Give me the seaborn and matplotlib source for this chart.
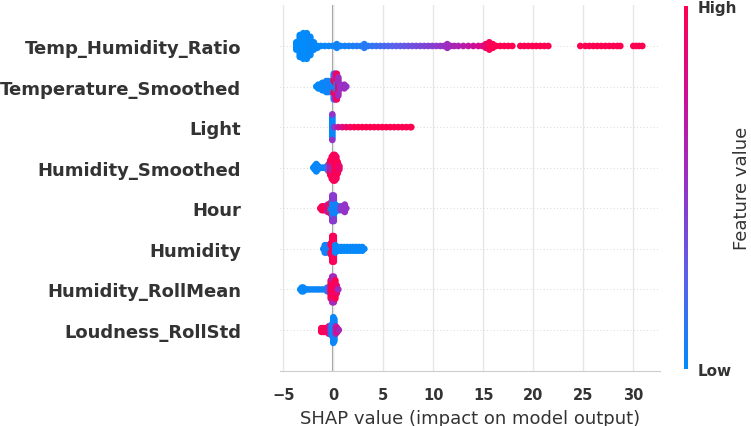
import numpy as np
import pandas as pd
import seaborn as sns
import matplotlib.pyplot as plt
from matplotlib.colors import LinearSegmentedColormap, Normalize
from matplotlib.cm import ScalarMappable

# Features, top to bottom
features = [
    "Temp_Humidity_Ratio",
    "Temperature_Smoothed",
    "Light",
    "Humidity_Smoothed",
    "Hour",
    "Humidity",
    "Humidity_RollMean",
    "Loudness_RollStd",
]

# For every feature: SHAP value, how many samples sit there, feature value (0 low .. 1 high)
thr_shap = [-3.7, -3.35, -3.0, -2.65, -2.3, -1.95, -1.6,
            -1.25, -0.85, -0.45, -0.05, 0.35, 0.75, 1.15, 1.55, 1.95, 2.35, 2.75,
            3.1, 3.5, 3.9, 4.3, 4.7, 5.1, 5.5, 5.9, 6.3, 6.7, 7.1, 7.5, 7.9, 8.3,
            8.7, 9.1, 9.5, 9.9, 10.3, 10.7, 11.05, 11.4, 11.75, 12.1, 12.5, 13.0,
            13.5, 14.0, 14.5, 14.9, 15.25, 15.6, 15.95, 16.3, 16.7, 17.1, 17.5, 17.9,
            18.7, 19.1, 19.5, 19.9, 20.3, 20.7, 21.1, 21.5,
            24.7, 25.2, 25.6, 26.0, 26.4, 26.8, 27.2, 27.6, 28.0, 28.4, 28.7,
            30.0, 30.3, 30.6, 30.9]
thr_count = [5, 13, 15, 15, 11, 5, 2,
             1, 1, 1, 1, 3, 1, 1, 1, 1, 1, 1,
             3, 1, 1, 1, 1, 1, 1, 1, 1, 1, 1, 1, 1, 1,
             1, 1, 1, 1, 1, 1, 1, 3, 1, 1, 1, 1,
             1, 1, 1, 1, 3, 5, 3, 1, 1, 1, 1, 1,
             1, 1, 1, 1, 1, 1, 1, 1,
             1, 1, 1, 1, 1, 1, 1, 1, 1, 1, 1,
             1, 1, 1, 1]
thr_value = [0.0, 0.0, 0.01, 0.01, 0.02, 0.02, 0.02,
             0.02, 0.03, 0.03, 0.04, 0.05, 0.05, 0.06, 0.07, 0.08, 0.09, 0.1,
             0.1, 0.12, 0.14, 0.16, 0.18, 0.2, 0.22, 0.24, 0.26, 0.28, 0.3, 0.32, 0.34, 0.36,
             0.38, 0.4, 0.42, 0.44, 0.46, 0.5, 0.52, 0.55, 0.57, 0.6, 0.62, 0.66,
             0.7, 0.74, 0.78, 0.82, 0.88, 0.97, 1.0, 1.0, 1.0, 1.0, 1.0, 1.0,
             1.0, 1.0, 1.0, 1.0, 1.0, 1.0, 1.0, 1.0,
             1.0, 1.0, 1.0, 1.0, 1.0, 1.0, 1.0, 1.0, 1.0, 1.0, 1.0,
             1.0, 1.0, 1.0, 1.0]

temp_shap = [-1.7, -1.5, -1.3, -1.1, -0.9, -0.7, -0.5, -0.3, -0.1,
             0.05, 0.05, 0.05, 0.2, 0.2, 0.2, 0.35, 0.35, 0.5, 0.5,
             0.7, 0.9, 1.1, 1.3]
temp_count = [1, 3, 3, 5, 5, 7, 7, 5, 7,
              5, 6, 4, 4, 6, 5, 7, 8, 6, 5,
              3, 1, 3, 1]
temp_value = [0.0, 0.01, 0.02, 0.02, 0.03, 0.03, 0.04, 0.05, 0.05,
              0.05, 0.95, 0.1, 0.1, 1.0, 0.6, 0.05, 0.95, 0.9, 0.55,
              0.5, 0.5, 0.55, 0.5]

light_shap = [-0.1, -0.1, 0.1, 0.5, 0.9, 1.3, 1.7, 2.1, 2.5, 2.9, 3.3, 3.7,
              4.1, 4.5, 4.9, 5.3, 5.7, 6.1, 6.5, 6.9, 7.3, 7.7, 7.8]
light_count = [13, 2, 1, 1, 1, 1, 1, 1, 1, 1, 1, 1,
               1, 1, 1, 1, 1, 1, 1, 1, 1, 1, 1]
light_value = [0.02, 0.5, 0.5, 0.7, 0.85, 0.9, 0.95, 1.0, 1.0, 1.0, 1.0, 1.0,
               1.0, 1.0, 1.0, 1.0, 1.0, 1.0, 1.0, 1.0, 1.0, 1.0, 1.0]

humsm_shap = [-2.0, -1.85, -1.7, -1.55, -1.4, -1.2, -1.0, -0.8, -0.6, -0.45,
              -0.3, -0.3, -0.15, -0.15, 0.0, 0.0, 0.15, 0.3, 0.45, 0.6]
humsm_count = [1, 3, 5, 3, 1, 1, 1, 1, 3, 5,
               3, 6, 5, 8, 6, 9, 15, 13, 7, 3]
humsm_value = [0.0, 0.01, 0.02, 0.02, 0.03, 0.03, 0.04, 0.05, 0.1, 0.3,
               0.6, 0.95, 0.55, 1.0, 0.6, 0.95, 1.0, 0.95, 1.0, 0.9]

hour_shap = [-1.3, -1.15, -1.0, -0.85, -0.7, -0.55, -0.55, -0.4, -0.25, -0.25,
             -0.1, -0.1, 0.05, 0.05, 0.2, 0.35, 0.55, 0.75, 0.95, 1.15, 1.3]
hour_count = [1, 3, 3, 3, 3, 3, 2, 5, 4, 3,
              9, 6, 10, 5, 5, 3, 3, 3, 3, 5, 1]
hour_value = [1.0, 0.95, 1.0, 0.95, 1.0, 0.95, 0.6, 1.0, 0.05, 0.95,
              0.05, 0.5, 0.05, 0.45, 0.05, 0.05, 0.05, 0.45, 0.45, 0.5, 0.5]

hum_shap = [-1.0, -0.85, -0.7, -0.55, -0.4, -0.25, -0.25, -0.1, 0.05, 0.2,
            0.35, 0.5, 0.8, 1.1, 1.4, 1.7, 2.0, 2.3, 2.6, 2.9, 3.1]
hum_count = [1, 5, 5, 3, 3, 3, 4, 15, 15, 5,
             3, 3, 3, 3, 3, 3, 3, 3, 3, 3, 1]
hum_value = [0.05, 0.04, 0.05, 0.06, 0.08, 0.05, 0.95, 1.0, 0.97, 0.05,
             0.03, 0.02, 0.02, 0.02, 0.02, 0.02, 0.02, 0.02, 0.02, 0.02, 0.02]

hrm_shap = [-3.3, -3.15, -3.0, -2.8, -2.6, -2.3, -2.0, -1.7, -1.4, -1.1, -0.8,
            -0.6, -0.45, -0.25, -0.1, -0.1, 0.05, 0.05, 0.2, 0.35, 0.5]
hrm_count = [1, 3, 3, 1, 1, 1, 1, 1, 1, 1, 1,
             3, 3, 11, 10, 5, 12, 3, 11, 5, 1]
hrm_value = [0.0, 0.01, 0.02, 0.02, 0.03, 0.03, 0.04, 0.04, 0.05, 0.05, 0.06,
             0.08, 0.3, 0.95, 1.0, 0.6, 0.95, 0.55, 1.0, 0.9, 0.55]

loud_shap = [-1.2, -1.05, -0.9, -0.75, -0.6, -0.45, -0.3, -0.15,
             0.0, 0.1, 0.25, 0.4, 0.55]
loud_count = [3, 3, 3, 3, 3, 5, 5, 7,
              15, 13, 5, 3, 1]
loud_value = [1.0, 0.95, 1.0, 0.95, 1.0, 0.9, 0.6, 0.05,
              0.02, 0.03, 0.6, 0.8, 0.6]

shap_lists = [thr_shap, temp_shap, light_shap, humsm_shap,
              hour_shap, hum_shap, hrm_shap, loud_shap]
count_lists = [thr_count, temp_count, light_count, humsm_count,
               hour_count, hum_count, hrm_count, loud_count]
value_lists = [thr_value, temp_value, light_value, humsm_value,
               hour_value, hum_value, hrm_value, loud_value]

x_ticks = [-5, 0, 5, 10, 15, 20, 25, 30]


def beeswarm_offsets(vals, nbins=100, row_height=0.4):
    # same piling as shap's summary plot: bin the values, stack each bin up and down
    quant = np.round(nbins * (vals - vals.min()) / (vals.max() - vals.min() + 1e-8))
    ys = np.zeros(len(vals))
    layer = 0
    last_bin = -1
    for ind in np.argsort(quant, kind="stable"):
        if quant[ind] != last_bin:
            layer = 0
        ys[ind] = np.ceil(layer / 2) * ((layer % 2) * 2 - 1)
        layer += 1
        last_bin = quant[ind]
    ys *= 0.9 * (row_height / np.max(ys + 1))
    return ys


# Build long table
frames = []
for pos, (name, s_list, c_list, v_list) in enumerate(
        zip(features, shap_lists, count_lists, value_lists)):
    assert len(s_list) == len(c_list) == len(v_list), name
    shap_vals = np.repeat(s_list, c_list).astype(float)
    feat_vals = np.repeat(v_list, c_list).astype(float)
    frames.append(pd.DataFrame({
        "feature": name,
        "shap": shap_vals,
        "value": feat_vals,
        "ypos": pos + beeswarm_offsets(shap_vals),
    }))
df = pd.concat(frames, ignore_index=True)

# SHAP-like blue -> purple -> red
cmap = LinearSegmentedColormap.from_list(
    "shap_red_blue", ["#008bfb", "#5a62ec", "#9333c8", "#cc0f98", "#ff0051"]
)

sns.set_style("whitegrid", {"grid.color": "#e6e6e6", "axes.edgecolor": "#cccccc"})
text_color = "#333333"

fig = plt.figure(figsize=(7.51, 4.27), dpi=100)
ax = fig.add_axes([280 / 751, 55.4 / 427, 380 / 751, 365.2 / 427])

for i in range(len(features)):
    ax.axhline(i, color="#cccccc", lw=0.6, dashes=(1, 3), zorder=-1)
ax.axvline(0, color="#999999", lw=1.5, zorder=-1)

sns.scatterplot(
    data=df, x="shap", y="ypos", hue="value", palette=cmap, hue_norm=(0, 1),
    s=23, linewidth=0, alpha=1, legend=False, ax=ax, zorder=3,
)

ax.set_xlim(-5.33, 32.67)
ax.set_ylim(len(features), -1)
ax.set_yticks(range(len(features)))
ax.set_yticklabels(features)
ax.set_xticks(x_ticks)
ax.set_xticklabels(["\u22125"] + [str(t) for t in x_ticks[1:]])
ax.grid(axis="y", visible=False)
ax.grid(axis="x", visible=True, lw=1)
for side in ["top", "right", "left"]:
    ax.spines[side].set_visible(False)
ax.spines["bottom"].set_color("#cccccc")

ax.tick_params(axis="x", length=6, width=1.5, color=text_color, pad=6,
               labelsize=10.5, labelcolor=text_color)
ax.tick_params(axis="y", length=0, pad=28, labelsize=13, labelcolor=text_color)
for lab in ax.get_xticklabels() + ax.get_yticklabels():
    lab.set_fontweight("bold")
ax.set_ylabel("")
ax.set_xlabel("SHAP value (impact on model output)", fontsize=13, color=text_color,
              labelpad=5)

# Colorbar
cax = fig.add_axes([684 / 751, 57 / 427, 4 / 751, 363 / 427])
cb = fig.colorbar(ScalarMappable(norm=Normalize(0, 1), cmap=cmap), cax=cax, ticks=[0, 1])
cb.set_ticklabels(["Low", "High"])
cb.outline.set_visible(False)
cax.tick_params(length=0, pad=7, labelsize=11, labelcolor=text_color)
for lab in cax.get_yticklabels():
    lab.set_fontweight("bold")
cb.set_label("Feature value", fontsize=13, color=text_color, labelpad=-3)

fig.savefig("out.png", dpi=100)
